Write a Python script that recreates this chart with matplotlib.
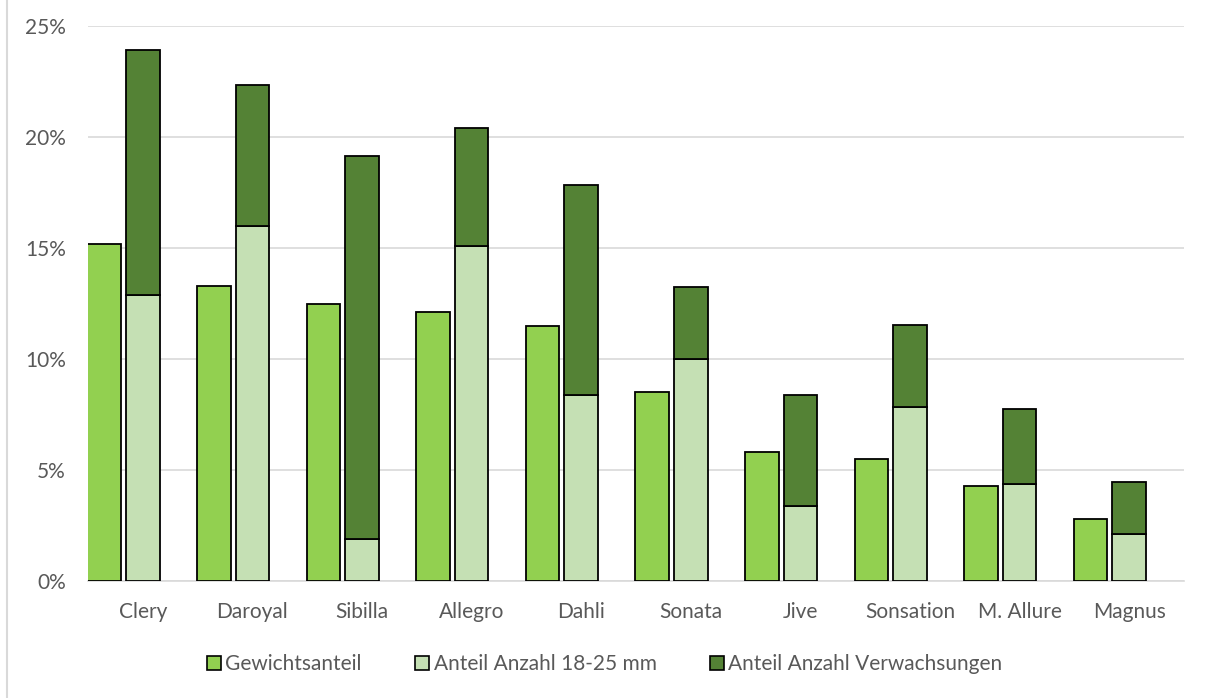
import numpy as np
import matplotlib
matplotlib.use('Agg')
import matplotlib.pyplot as plt
from matplotlib.lines import Line2D
from matplotlib.ticker import PercentFormatter

plt.rcParams['font.family'] = ['Lato', 'DejaVu Sans']

sorten = ['Clery', 'Daroyal', 'Sibilla', 'Allegro', 'Dahli', 'Sonata',
          'Jive', 'Sonsation', 'M. Allure', 'Magnus']
gewichtsanteil = [15.2, 13.3, 12.5, 12.1, 11.5, 8.5, 5.8, 5.5, 4.3, 2.8]
anteil_18_25 = [12.9, 16.0, 1.9, 15.1, 8.4, 10.0, 3.4, 7.85, 4.35, 2.1]
anteil_verwachsungen = [11.0, 6.35, 17.25, 5.3, 9.45, 3.25, 5.0, 3.7, 3.4, 2.35]

c_gew = '#92D050'
c_ant = '#C5E0B4'
c_verw = '#548235'

fig = plt.figure(figsize=(12.06, 6.98), dpi=100)
ax = fig.add_axes([88/1206, (698-581)/698, (1184-88)/1206, (581-26)/698])

x = np.arange(len(sorten))
w = 0.306
ax.bar(x - 0.352, gewichtsanteil, w, color=c_gew, edgecolor='black', linewidth=1.3, zorder=3)
ax.bar(x, anteil_18_25, w, color=c_ant, edgecolor='black', linewidth=1.3, zorder=3)
ax.bar(x, anteil_verwachsungen, w, bottom=anteil_18_25, color=c_verw,
       edgecolor='black', linewidth=1.3, zorder=3)

ax.set_xlim(-0.5, 9.5)
ax.set_ylim(0, 25)
ax.set_yticks(np.arange(0, 26, 5))
ax.yaxis.set_major_formatter(PercentFormatter(decimals=0))
ax.grid(axis='y', color='#D9D9D9', linewidth=1.2, zorder=0)
ax.set_xticks(x)
ax.set_xticklabels(sorten)
ax.tick_params(axis='both', length=0, labelsize=15, colors='#595959')
ax.tick_params(axis='x', pad=15)
ax.tick_params(axis='y', pad=16)
for s in ['top', 'right', 'left']:
    ax.spines[s].set_visible(False)
ax.spines['bottom'].set_color('#D9D9D9')
ax.spines['bottom'].set_linewidth(1.2)

handles = [Line2D([], [], marker='s', linestyle='none', markersize=10,
                  markerfacecolor=c, markeredgecolor='black', markeredgewidth=1.2)
           for c in (c_gew, c_ant, c_verw)]
labels = ['Gewichtsanteil', 'Anteil Anzahl 18-25 mm', 'Anteil Anzahl Verwachsungen']
leg = fig.legend(handles, labels, loc='center', bbox_to_anchor=(0.5, 1 - 664/698),
                 ncol=3, frameon=False, fontsize=15, handletextpad=0.05,
                 columnspacing=2.4, handlelength=1.0)
for t in leg.get_texts():
    t.set_color('#595959')

fig.add_artist(Line2D([7/1206, 7/1206], [0, 1], color='#D9D9D9', linewidth=1.5,
                      transform=fig.transFigure))

fig.savefig('out.png', dpi=100, facecolor='white')
